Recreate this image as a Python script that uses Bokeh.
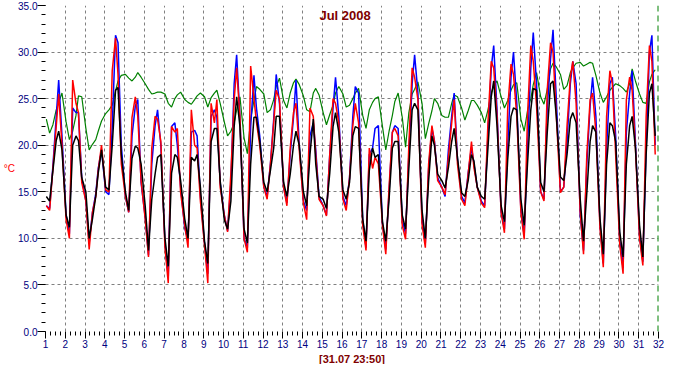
from bokeh.plotting import figure
from bokeh.models import (FixedTicker, SingleIntervalTicker, PrintfTickFormatter,
                          Label, Span, ColumnDataSource, Range1d, Title)
from bokeh.embed import file_html
from bokeh.resources import INLINE

# ---------------- data ----------------
DAYS = list(range(1, 32))            # July 2008, day of month
HOURS = [1, 5, 9, 13, 16, 20]        # sample hours within each day
TITLE = "Jul 2008"
STAMP = "[31.07 23:50]"
UNIT = "°C"

RED = [
    13.5, 13.0, 17.5, 22.0, 25.5, 20.0,
    12.0, 10.0, 27.0, 24.5, 23.5, 16.0,
    14.0, 8.8, 12.8, 14.5, 17.3, 20.0,
    15.2, 15.0, 28.0, 31.5, 27.6, 18.0,
    14.5, 12.8, 23.0, 25.2, 23.1, 16.2,
    12.1, 8.0, 19.7, 23.1, 22.8, 20.4,
    9.0, 5.2, 22.0, 21.4, 21.8, 14.9,
    11.4, 9.0, 23.8, 20.0, 19.7, 14.0,
    9.3, 5.2, 24.5, 22.4, 24.9, 15.5,
    12.5, 10.7, 17.0, 24.9, 28.3, 23.0,
    10.0, 8.5, 28.5, 25.0, 22.5, 20.0,
    15.5, 14.2, 18.0, 22.4, 25.9, 24.9,
    15.5, 13.5, 19.7, 23.5, 24.5, 19.5,
    13.8, 12.0, 24.0, 23.1, 19.0, 14.2,
    13.5, 12.4, 19.0, 25.0, 24.5, 22.4,
    14.2, 13.0, 16.5, 22.1, 24.5, 22.4,
    11.4, 8.7, 19.7, 17.5, 18.7, 18.0,
    11.4, 8.3, 15.5, 21.4, 21.8, 21.0,
    11.4, 9.9, 20.0, 28.3, 27.3, 24.9,
    11.5, 9.0, 18.0, 22.1, 20.4, 16.2,
    15.5, 14.7, 18.7, 22.4, 24.9, 18.0,
    14.2, 13.5, 16.9, 20.4, 17.6, 15.5,
    13.8, 13.3, 22.4, 29.0, 28.3, 23.1,
    12.8, 10.6, 24.0, 28.7, 27.6, 23.1,
    12.8, 9.9, 23.1, 30.7, 29.0, 24.2,
    15.0, 14.0, 26.0, 31.0, 30.0, 23.1,
    14.9, 15.5, 22.1, 27.3, 29.0, 24.5,
    12.8, 8.3, 19.0, 24.9, 25.6, 21.4,
    11.1, 6.9, 23.1, 28.0, 26.6, 19.0,
    9.3, 6.2, 24.9, 27.3, 25.9, 19.7,
    10.0, 7.1, 23.1, 30.7, 29.0, 19.0,
]

BLUE = [
    13.5, 13.2, 17.8, 23.0, 27.0, 21.0,
    12.5, 10.5, 24.0, 23.5, 23.5, 16.5,
    14.0, 9.5, 12.8, 14.8, 17.5, 19.5,
    15.0, 14.7, 22.0, 31.8, 31.0, 20.0,
    14.5, 12.8, 21.0, 24.2, 24.9, 16.0,
    12.3, 8.2, 18.0, 22.1, 23.8, 20.0,
    9.5, 5.8, 22.0, 22.4, 20.0, 15.5,
    11.1, 9.8, 21.4, 21.6, 21.0, 14.5,
    9.5, 6.2, 23.1, 23.8, 23.0, 16.0,
    12.5, 10.8, 16.0, 26.6, 29.7, 23.0,
    10.0, 9.0, 22.0, 27.5, 24.0, 21.0,
    15.5, 14.5, 18.0, 22.8, 27.6, 24.5,
    15.5, 13.8, 19.0, 23.0, 27.0, 20.0,
    14.0, 13.0, 21.0, 22.4, 19.5, 14.5,
    13.5, 12.5, 19.0, 24.0, 27.3, 23.1,
    14.5, 13.5, 16.5, 23.1, 26.3, 25.6,
    12.0, 9.0, 19.0, 19.7, 21.8, 22.1,
    11.5, 8.8, 15.0, 21.4, 22.1, 21.8,
    12.0, 10.5, 19.0, 26.6, 29.7, 25.6,
    12.0, 9.5, 17.5, 21.8, 20.5, 16.5,
    15.5, 14.5, 19.5, 23.1, 25.6, 18.5,
    14.5, 13.8, 17.0, 19.8, 18.0, 15.5,
    14.0, 13.5, 21.0, 28.3, 30.7, 23.8,
    12.8, 11.0, 20.0, 27.3, 30.0, 24.5,
    13.0, 10.3, 19.7, 28.3, 32.1, 26.6,
    15.0, 14.2, 24.0, 29.3, 32.4, 24.9,
    15.0, 15.5, 20.4, 26.6, 29.0, 26.6,
    12.5, 8.7, 18.0, 24.2, 27.3, 23.1,
    11.5, 7.3, 19.7, 26.6, 27.3, 21.0,
    9.7, 6.8, 21.4, 25.6, 28.0, 20.4,
    10.3, 7.5, 19.7, 30.0, 31.8, 20.0,
]

BLACK = [
    14.5, 14.0, 17.3, 20.5, 21.5, 19.5,
    12.5, 11.2, 20.0, 21.0, 20.5, 16.5,
    15.0, 10.0, 12.1, 14.5, 17.0, 19.5,
    15.5, 15.2, 20.0, 25.9, 26.2, 19.0,
    15.0, 13.0, 18.6, 19.9, 19.7, 18.0,
    13.5, 8.7, 14.2, 16.9, 18.7, 19.0,
    10.0, 7.0, 17.0, 19.0, 18.7, 16.2,
    12.1, 10.0, 18.7, 18.3, 19.0, 15.5,
    9.7, 7.3, 20.4, 21.8, 21.8, 16.2,
    12.0, 11.0, 14.0, 22.0, 25.2, 22.0,
    11.0, 9.5, 18.0, 23.0, 23.0, 20.5,
    16.0, 15.0, 17.3, 19.7, 23.1, 23.1,
    16.0, 14.5, 16.9, 20.0, 21.5, 20.0,
    15.0, 13.5, 19.0, 22.8, 18.0, 14.5,
    14.2, 13.2, 17.0, 22.0, 23.5, 21.4,
    15.2, 14.2, 16.0, 21.0, 22.0, 21.8,
    12.1, 9.7, 17.3, 19.7, 18.7, 19.0,
    11.8, 9.7, 14.2, 19.7, 20.4, 20.4,
    12.5, 11.0, 17.5, 23.8, 24.5, 23.8,
    13.0, 10.0, 16.2, 21.0, 20.0, 16.9,
    16.2, 15.4, 17.6, 20.4, 21.8, 18.7,
    14.9, 14.5, 16.2, 19.0, 18.3, 15.5,
    14.5, 14.2, 19.7, 25.2, 26.9, 22.1,
    13.5, 11.8, 18.5, 23.1, 24.0, 23.8,
    14.2, 11.4, 18.0, 23.8, 26.1, 25.9,
    16.0, 15.0, 21.4, 26.6, 26.9, 23.1,
    16.6, 16.2, 19.0, 22.8, 23.5, 22.4,
    14.2, 9.7, 14.9, 20.4, 22.1, 21.4,
    12.1, 8.3, 18.0, 22.4, 22.1, 20.4,
    10.7, 8.0, 18.0, 22.1, 23.1, 19.7,
    11.4, 8.0, 19.0, 25.6, 26.6, 21.0,
]

GREEN = [
    22.8, 21.3, 22.2, 23.8, 24.6, 25.6,
    22.5, 20.6, 21.5, 23.2, 25.3, 25.2,
    21.8, 19.5, 20.1, 20.6, 21.5, 22.6,
    23.4, 23.8, 24.3, 25.8, 26.9, 27.5,
    27.6, 27.2, 26.9, 27.3, 27.8, 27.3,
    26.6, 26.0, 25.5, 25.6, 25.7, 25.7,
    25.5, 24.5, 24.1, 25.0, 25.4, 25.7,
    24.9, 24.6, 24.4, 24.9, 25.3, 25.6,
    25.2, 24.1, 25.1, 25.6, 25.9, 24.5,
    22.5, 21.0, 21.5, 22.4, 23.8, 25.2,
    20.8, 19.1, 22.8, 24.8, 26.3, 26.0,
    25.5, 23.5, 23.8, 24.9, 26.3, 27.2,
    24.8, 24.0, 25.6, 26.7, 27.1, 26.5,
    25.3, 23.8, 23.6, 25.6, 26.1, 25.4,
    23.5, 22.2, 23.3, 24.3, 25.6, 26.3,
    25.5, 24.1, 24.3, 25.0, 25.6, 26.1,
    23.2, 21.8, 23.8, 24.6, 25.0, 25.2,
    22.0, 19.5, 21.5, 23.2, 24.7, 25.6,
    23.0, 19.8, 23.5, 25.5, 26.0, 26.8,
    24.5, 20.7, 22.3, 23.7, 25.0, 24.5,
    23.2, 23.0, 23.0, 24.5, 25.4, 25.2,
    24.0, 22.7, 23.7, 24.8, 24.8, 24.3,
    23.5, 22.4, 23.8, 25.6, 26.4, 26.9,
    25.2, 24.0, 24.8, 25.9, 26.5, 26.7,
    22.8, 21.5, 23.7, 25.0, 26.5, 27.8,
    25.2, 24.4, 26.0, 28.2, 28.8, 28.4,
    27.6, 26.0, 26.4, 27.8, 28.3, 28.8,
    28.9, 28.5, 28.7, 28.9, 28.8, 27.5,
    25.6, 24.6, 25.2, 25.9, 26.2, 26.6,
    26.4, 26.1, 25.7, 26.6, 28.2, 26.9,
    25.5, 24.6, 24.5, 26.8, 27.6, 28.1,
]

# ---------------- build ----------------
t = [d + h / 24.0 for d in DAYS for h in HOURS]
src = ColumnDataSource(dict(t=t, red=RED, blue=BLUE, black=BLACK, green=GREEN))

last_day = DAYS[-1] + 1
p = figure(width=666, height=364, output_backend="svg", toolbar_location=None,
           x_range=Range1d(DAYS[0], last_day), y_range=Range1d(0, 35),
           min_border_left=38, min_border_right=8, min_border_top=5, min_border_bottom=0,
           background_fill_color="white", border_fill_color="white")
p.outline_line_color = None

FONT = "Liberation Sans"
NAVY = "#000080"
DARKRED = "#800000"

xa = p.xaxis[0]
xa.ticker = FixedTicker(ticks=list(range(DAYS[0], last_day + 1)),
                        minor_ticks=[d + q / 4.0 for d in DAYS for q in (1, 2, 3)])
xa.axis_line_color = None
xa.major_tick_out = 7
xa.major_tick_in = 0
xa.minor_tick_out = 4
xa.minor_tick_in = 0
xa.major_tick_line_color = "black"
xa.minor_tick_line_color = "black"
xa.major_label_standoff = 1
xa.major_label_text_color = NAVY
xa.major_label_text_font = FONT
xa.major_label_text_font_size = "10px"

ya = p.yaxis[0]
ya.ticker = SingleIntervalTicker(interval=5, num_minor_ticks=5)
ya.formatter = PrintfTickFormatter(format="%.1f")
ya.axis_line_color = None
ya.major_tick_out = 8
ya.major_tick_in = 0
ya.minor_tick_out = 4
ya.minor_tick_in = 0
ya.major_tick_line_color = "black"
ya.minor_tick_line_color = "black"
ya.major_label_standoff = 0
ya.major_label_text_color = NAVY
ya.major_label_text_font = FONT
ya.major_label_text_font_size = "10px"
ya.axis_label = UNIT
ya.axis_label_orientation = "horizontal"
ya.axis_label_standoff = 0
ya.axis_label_text_color = "#ff0000"
ya.axis_label_text_font = FONT
ya.axis_label_text_font_style = "normal"
ya.axis_label_text_font_size = "10px"

p.xgrid.ticker = FixedTicker(ticks=DAYS[1:])
p.ygrid.ticker = FixedTicker(ticks=list(range(5, 35, 5)))
for g in (p.xgrid, p.ygrid):
    g.grid_line_color = "#808080"
    g.grid_line_dash = "3 3"
    g.grid_line_width = 1

p.line("t", "green", source=src, line_color="#008000", line_width=1.2)
p.line("t", "blue", source=src, line_color="#0000ff", line_width=1.5)
p.line("t", "red", source=src, line_color="#ff0000", line_width=1.5)
p.line("t", "black", source=src, line_color="#000000", line_width=1.5)

p.add_layout(Span(location=last_day, dimension="height", line_color="#008000",
                  line_dash="6 4", line_width=2))

p.add_layout(Label(x=16.15, y=35, text=TITLE, text_align="center", text_baseline="top",
                   text_color=DARKRED, text_font=FONT, text_font_style="bold",
                   text_font_size="13px", y_offset=-2))

stamp = Title(text=STAMP, align="center", offset=22, standoff=0,
              text_color=DARKRED, text_font=FONT, text_font_style="bold",
              text_font_size="11px")
p.add_layout(stamp, "below")

open("out.html", "w").write(file_html(p, INLINE))
